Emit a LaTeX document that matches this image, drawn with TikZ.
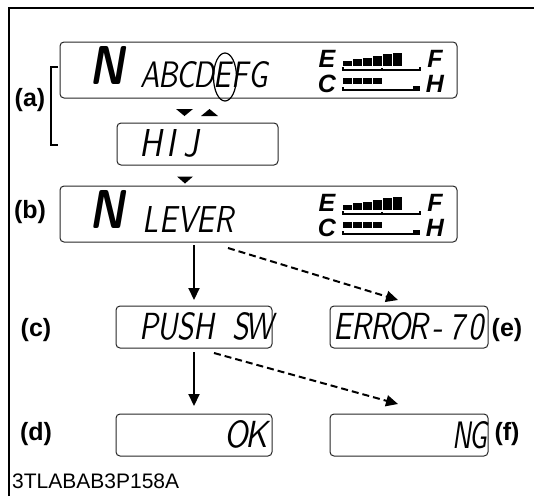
\documentclass[tikz,border=0pt]{standalone}
\usepackage{fontspec}
\newfontfamily\arialf{Liberation Sans}
\usetikzlibrary{arrows.meta}
\ExplSyntaxOn
\NewDocumentCommand\lcdmono{m}{\tl_map_inline:nn{#1}{\makebox[0.62em][c]{##1}}}
\ExplSyntaxOff
\newcommand\lcdtext[3]{\resizebox{#1pt}{#2pt}{\sffamily\slshape\lcdmono{#3}}}
\newcommand\lcdbigN{\resizebox{35pt}{38pt}{\sffamily\bfseries\slshape N}}
\newcommand\gaugeat[2]{%
  \begin{scope}[shift={(0,#1)}]
    \foreach \i in {0,...,5} \fill ({343+10*\i},66) rectangle ({351.5+10*\i},{61-1.7*\i});
    \draw[line width=1.5pt] (343,67) -- (343,70) -- (420,70) -- (420,67);
    \draw[line width=1.5pt] (382,70) -- (382,67.5);
    \foreach \i in {0,...,3} \fill ({343+10*\i},77.5) rectangle ({351.5+10*\i},84);
    \draw[line width=1.5pt] (343,87) -- (343,90) -- (420,90);
    \fill (413,86) rectangle (420,90.8);
    \node[gl] (#2E) at (327,59) {E};
    \node[gl] (#2C) at (327,84) {C};
    \node[gl] (#2F) at (435,59) {F};
    \node[gl] (#2H) at (435,84) {H};
  \end{scope}}
\begin{document}
\begin{tikzpicture}[x=1pt,y=-1pt,
  lcdbox/.style={draw=black!85, line width=1pt, rounded corners=4pt, inner sep=0pt, outer sep=0pt},
  lbl/.style={font=\arialf\bfseries\fontsize{25}{25}\selectfont, inner sep=0pt},
  gl/.style={font=\arialf\bfseries\itshape\fontsize{25}{25}\selectfont, inner sep=0pt},
  lcd/.style={anchor=south west, inner sep=0pt},
  arr/.style={line width=2pt, -{Triangle[length=12pt,width=11pt]}},
  darr/.style={line width=2pt, dash pattern=on 7pt off 4pt, -{Triangle[length=12pt,width=11pt]}},
]
\useasboundingbox (0,0) rectangle (534,496);
\draw[line width=2.5pt] (9,496) -- (9,8) -- (534,8);

% boxes
\node[lcdbox, minimum width=397pt, minimum height=56pt] (A) at (258.5,70) {};
\node[lcdbox, minimum width=161pt, minimum height=42pt] (HIJ) at (197.5,144) {};
\node[lcdbox, minimum width=397pt, minimum height=56pt] (B) at (258.5,214) {};
\node[lcdbox, minimum width=156pt, minimum height=42pt] (C) at (194,327) {};
\node[lcdbox, minimum width=158pt, minimum height=42pt] (E) at (409,327) {};
\node[lcdbox, minimum width=156pt, minimum height=42pt] (D) at (194,435) {};
\node[lcdbox, minimum width=158pt, minimum height=42pt] (F) at (409,435) {};

% display texts
\node[lcd] (An) at (89,85) {\lcdbigN};
\node[lcd] (At) at (141,88) {\lcdtext{126}{26}{ABCDEFG}};
\draw[line width=1.2pt] (225,77) ellipse [x radius=11.5, y radius=24];
\node[lcd] (Ht) at (141,158) {\lcdtext{60}{27}{HIJ}};
\node[lcd] (Bn) at (89,229) {\lcdbigN};
\node[lcd] (Bt) at (141,233) {\lcdtext{92}{26}{LEVER}};
\node[lcd] (Ct) at (140,341) {\lcdtext{128}{27}{PUSH\ SW}};
\node[lcd] (Et) at (333,341) {\lcdtext{152}{27}{ERROR-70}};
\node[lcd] (Dt) at (226,449) {\lcdtext{40}{27}{OK}};
\node[lcd] (Ft) at (453,449) {\lcdtext{33}{27}{NG}};

\gaugeat{0}{ga}
\gaugeat{144}{gb}

% triangles
\fill (176,109) -- (193,109) -- (184.5,116) -- cycle;
\fill (201,116) -- (218,116) -- (209.5,109) -- cycle;
\fill (177,176.5) -- (193,176.5) -- (185,183.5) -- cycle;

% bracket
\draw[line width=1.8pt] (58,67) -- (51,67) -- (51,145) -- (58,145);

% labels
\node[lbl] (la) at (30,100) {(a)};
\node[lbl] (lb) at (30,212) {(b)};
\node[lbl] (lc) at (36,330) {(c)};
\node[lbl] (ld) at (36,434) {(d)};
\node[lbl] (le) at (507,330) {(e)};
\node[lbl] (lf) at (507,434) {(f)};

% arrows
\draw[arr, shorten >=6pt, shorten <=3pt] (C.north |- B.south) -- (C.north);
\draw[arr, shorten >=8pt, shorten <=4pt] (C.south) -- (D.north);
\draw[darr] ([shift={(34,6)}]C.north |- B.south) -- ([shift={(-11,-6)}]E.north);
\draw[darr] ([shift={(20,5)}]C.south) -- ([shift={(-11,-10)}]F.north);

\node[anchor=base west, inner sep=0pt, font=\arialf\fontsize{21}{21}\selectfont] (code) at (12,488) {3TLABAB3P158A};
\end{tikzpicture}
\end{document}
